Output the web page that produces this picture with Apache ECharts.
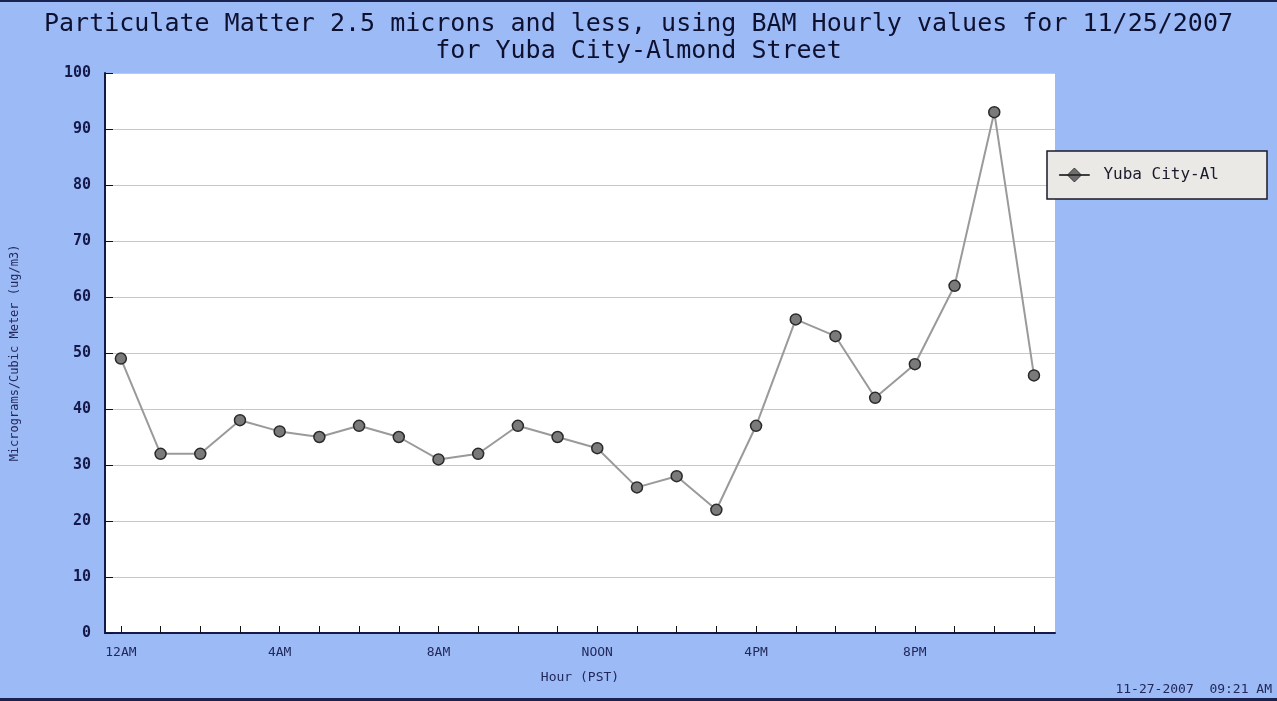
<!DOCTYPE html>
<html><head><meta charset="utf-8">
<script src="https://cdn.jsdelivr.net/npm/echarts@6/dist/echarts.min.js"></script>
<style>html,body{margin:0;padding:0;background:#9cbaf6;}#c{width:1277px;height:701px;}</style>
</head><body><div id="c"></div>
<script>
const titleLines = ['Particulate Matter 2.5 microns and less, using BAM Hourly values for 11/25/2007', 'for Yuba City-Almond Street'];
const seriesName = 'Yuba City-Al';
const hours = [0,1,2,3,4,5,6,7,8,9,10,11,12,13,14,15,16,17,18,19,20,21,22,23];
const pm25 = [49,32,32,38,36,35,37,35,31,32,37,35,33,26,28,22,37,56,53,42,48,62,93,46];
const xTickLabels = {0:'12AM',4:'4AM',8:'8AM',12:'NOON',16:'4PM',20:'8PM'};
const xLabelValues = [0,4,8,12,16,20];
const xAxisTitle = 'Hour (PST)';
const yAxisTitle = 'Micrograms/Cubic Meter (ug/m3)';
const stamp = '11-27-2007  09:21 AM';

const mono = '"DejaVu Sans Mono", "Liberation Mono", monospace';
const navy = '#14194a';
const chart = echarts.init(document.getElementById('c'));
chart.setOption({
  backgroundColor: '#9cbaf6',
  animation: false,
  title: {
    text: titleLines.join('\n'),
    left: 'center', top: 6,
    textStyle: {fontFamily: mono, fontSize: 25, fontWeight: 'normal', color: '#0e1030', lineHeight: 27}
  },
  legend: {
    data: [seriesName],
    right: 10, top: 151,
    orient: 'vertical',
    backgroundColor: '#ebe9e6',
    borderColor: '#1a1a2a', borderWidth: 1.5, borderRadius: 0,
    padding: [16, 48, 16, 12],
    itemWidth: 32, itemHeight: 14, itemGap: 8,
    icon: 'path://M0,6.5 H30 V7.5 H0 Z M15,0 L22,7 L15,14 L8,7 Z',
    itemStyle: {color: '#6e6e6e', borderColor: '#222', borderWidth: 0.8},
    textStyle: {fontFamily: mono, fontSize: 16, color: '#1a1a2a', padding: [0, 0, 0, 8]}
  },
  grid: {left: 105, right: 222, top: 73, bottom: 68, show: true, backgroundColor: '#ffffff', borderWidth: 0},
  xAxis: {
    type: 'value', min: -0.4, max: 23.53,
    name: xAxisTitle, nameLocation: 'middle', nameGap: 38,
    nameTextStyle: {fontFamily: mono, fontSize: 13, color: '#23285a'},
    axisLine: {show: true, onZero: false, lineStyle: {color: navy, width: 2}},
    axisTick: {show: true, inside: true, length: 7, customValues: hours, lineStyle: {color: '#111'}},
    axisLabel: {customValues: xLabelValues, formatter: v => xTickLabels[v] || '', fontFamily: mono, fontSize: 13, color: '#23285a', margin: 13},
    splitLine: {show: false}
  },
  yAxis: {
    type: 'value', min: 0, max: 100, interval: 10,
    name: yAxisTitle, nameLocation: 'middle', nameGap: 84,
    nameTextStyle: {fontFamily: mono, fontSize: 12, color: '#23285a'},
    axisLine: {show: true, onZero: false, lineStyle: {color: navy, width: 2}},
    axisTick: {show: true, inside: true, length: 8, lineStyle: {color: '#111'}},
    axisLabel: {fontFamily: mono, fontSize: 15, fontWeight: 'bold', color: navy, margin: 14},
    splitLine: {show: true, lineStyle: {color: '#c8c8c8', width: 1.2}}
  },
  series: [{
    name: seriesName, type: 'line',
    data: hours.map((h, i) => [h, pm25[i]]),
    symbol: 'circle', symbolSize: 11,
    lineStyle: {color: '#9a9a9a', width: 2},
    itemStyle: {color: '#7a7a7a', borderColor: '#2a2a2a', borderWidth: 1.5}
  }],
  graphic: [
    {type: 'rect', left: 0, top: 0, shape: {width: 1277, height: 2}, style: {fill: '#1a2250'}},
    {type: 'rect', left: 0, top: 698, shape: {width: 1277, height: 3}, style: {fill: '#1a2250'}},
    {type: 'text', right: 5, top: 683, style: {text: stamp, fontFamily: mono, fontSize: 13, fill: '#23285a'}}
  ]
});
</script></body></html>
